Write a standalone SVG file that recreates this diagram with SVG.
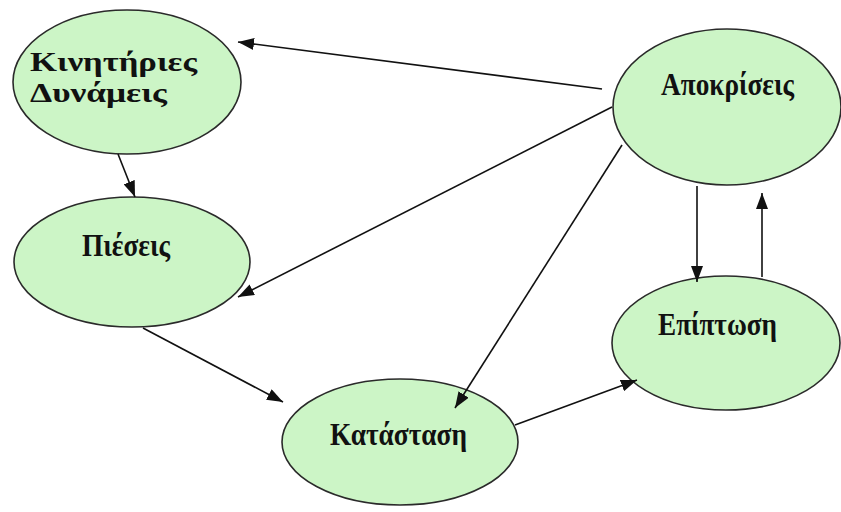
<svg xmlns="http://www.w3.org/2000/svg" width="841" height="512" viewBox="0 0 841 512">
<style>
.node{fill:#ccf5c6;stroke:#2a2a2a;stroke-width:1.6}
.lbl{font-family:"Liberation Serif","DejaVu Serif","Times New Roman",serif;font-weight:bold;font-size:32px;fill:#111}
.two{font-size:28px}
.edge{stroke:#111;stroke-width:1.6;fill:none;marker-end:url(#ah)}
</style>
<defs>
<marker id="ah" viewBox="0 0 16 12" refX="16" refY="6" markerWidth="16" markerHeight="12" markerUnits="userSpaceOnUse" orient="auto">
<path d="M0,0 L16,6 L0,12 z" fill="#111"/>
</marker>
</defs>
<rect width="841" height="512" fill="#fff"/>
<g id="n-kinitiries">
<ellipse class="node" cx="127" cy="82" rx="114" ry="72"/>
<text class="lbl two" x="30" y="71" textLength="167" lengthAdjust="spacingAndGlyphs">Κινητήριες</text>
<text class="lbl two" x="30" y="102" textLength="137" lengthAdjust="spacingAndGlyphs">Δυνάμεις</text>
</g>
<g id="n-pieseis">
<ellipse class="node" cx="132" cy="262" rx="118" ry="65"/>
<text class="lbl" x="82" y="256" textLength="88" lengthAdjust="spacingAndGlyphs">Πιέσεις</text>
</g>
<g id="n-katastasi">
<ellipse class="node" cx="400" cy="442" rx="118" ry="63"/>
<text class="lbl" x="330" y="445" textLength="137" lengthAdjust="spacingAndGlyphs">Κατάσταση</text>
</g>
<g id="n-apokriseis">
<ellipse class="node" cx="727" cy="107" rx="114" ry="78"/>
<text class="lbl" x="661" y="95" textLength="133" lengthAdjust="spacingAndGlyphs">Αποκρίσεις</text>
</g>
<g id="n-epiptosi">
<ellipse class="node" cx="726" cy="343" rx="114" ry="67"/>
<text class="lbl" x="658" y="335" textLength="119" lengthAdjust="spacingAndGlyphs">Επίπτωση</text>
</g>
<g id="connectors">
<path class="edge" d="M602,89 L238,42"/>
<path class="edge" d="M612,107 L238,297"/>
<path class="edge" d="M622,145 L455,408"/>
<path class="edge" d="M118,154 L135,197"/>
<path class="edge" d="M143,328 L283,402"/>
<path class="edge" d="M515,425 L637,380"/>
<path class="edge" d="M697,186 L697,282"/>
<path class="edge" d="M762,277 L762,193"/>
</g>
</svg>
